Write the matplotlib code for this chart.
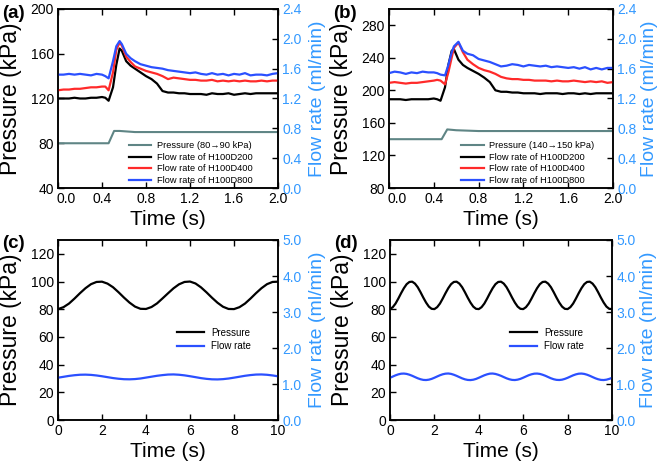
import numpy as np
import matplotlib
matplotlib.use("Agg")
import matplotlib.pyplot as plt
import matplotlib.transforms as mtransforms

plt.rcParams['font.family'] = ['Liberation Sans', 'DejaVu Sans']

# 颜色
c_flow_axis = '#3399ff'
c_press = '#5f8585'
c_black = '#000000'
c_red = '#ff2a2a'
c_blue = '#2b50ff'

# ---------------- (a)/(b) 阶跃响应数据 ----------------
t_step = [0.0, 0.05, 0.1, 0.15, 0.2, 0.25, 0.3, 0.35, 0.4, 0.43, 0.46, 0.5, 0.53, 0.56, 0.58,
          0.62, 0.66, 0.70, 0.75, 0.80, 0.85, 0.90, 0.95, 1.0, 1.05, 1.1, 1.15, 1.2, 1.25, 1.3,
          1.35, 1.4, 1.45, 1.5, 1.55, 1.6, 1.65, 1.7, 1.75, 1.8, 1.85, 1.9, 1.95, 2.0]

# (a) 80->90 kPa
t_press_a = [0.0, 0.46, 0.51, 0.56, 0.7, 2.0]
press_a = [80, 80, 91, 91, 90, 90]
flow_a_d200 = [1.20, 1.20, 1.20, 1.21, 1.20, 1.20, 1.21, 1.21, 1.22, 1.21, 1.17, 1.35, 1.65, 1.87, 1.84,
               1.70, 1.64, 1.60, 1.55, 1.50, 1.46, 1.40, 1.30, 1.28, 1.28, 1.27, 1.27, 1.26, 1.26, 1.26,
               1.25, 1.27, 1.26, 1.26, 1.27, 1.25, 1.26, 1.27, 1.26, 1.27, 1.27, 1.27, 1.27, 1.27]
flow_a_d400 = [1.31, 1.32, 1.32, 1.33, 1.33, 1.34, 1.35, 1.35, 1.36, 1.36, 1.31, 1.55, 1.85, 1.95, 1.91,
               1.76, 1.69, 1.63, 1.60, 1.57, 1.55, 1.53, 1.50, 1.46, 1.48, 1.47, 1.46, 1.45, 1.45, 1.44,
               1.44, 1.45, 1.43, 1.44, 1.43, 1.44, 1.43, 1.44, 1.43, 1.43, 1.44, 1.43, 1.44, 1.44]
flow_a_d800 = [1.52, 1.52, 1.53, 1.52, 1.53, 1.52, 1.51, 1.53, 1.52, 1.50, 1.47, 1.70, 1.90, 1.97, 1.93,
               1.80, 1.74, 1.70, 1.66, 1.64, 1.62, 1.61, 1.60, 1.58, 1.57, 1.56, 1.55, 1.54, 1.55, 1.53,
               1.52, 1.54, 1.52, 1.53, 1.51, 1.53, 1.52, 1.54, 1.51, 1.52, 1.52, 1.51, 1.53, 1.54]

# (b) 140->150 kPa
t_press_b = [0.0, 0.47, 0.52, 0.6, 0.8, 2.0]
press_b = [140, 140, 152, 151, 150, 150]
flow_b_d200 = [1.19, 1.19, 1.19, 1.18, 1.19, 1.19, 1.19, 1.19, 1.20, 1.19, 1.17, 1.35, 1.65, 1.84, 1.86,
               1.72, 1.65, 1.61, 1.57, 1.53, 1.48, 1.42, 1.31, 1.29, 1.29, 1.28, 1.28, 1.27, 1.27, 1.27,
               1.26, 1.27, 1.27, 1.27, 1.26, 1.27, 1.27, 1.26, 1.27, 1.26, 1.27, 1.27, 1.27, 1.27]
flow_b_d400 = [1.41, 1.42, 1.41, 1.40, 1.41, 1.41, 1.42, 1.43, 1.44, 1.45, 1.44, 1.39, 1.55, 1.75, 1.88,
               1.95, 1.82, 1.72, 1.66, 1.61, 1.58, 1.56, 1.53, 1.49, 1.47, 1.46, 1.46, 1.45, 1.45, 1.44,
               1.44, 1.44, 1.43, 1.44, 1.43, 1.43, 1.44, 1.43, 1.42, 1.43, 1.42, 1.43, 1.41, 1.42]
flow_b_d800 = [1.54, 1.56, 1.55, 1.53, 1.55, 1.54, 1.56, 1.55, 1.55, 1.54, 1.52, 1.51, 1.65, 1.82, 1.90,
               1.96, 1.84, 1.80, 1.78, 1.73, 1.71, 1.69, 1.66, 1.63, 1.64, 1.66, 1.65, 1.63, 1.65, 1.64,
               1.63, 1.64, 1.62, 1.63, 1.62, 1.61, 1.62, 1.60, 1.62, 1.59, 1.61, 1.59, 1.61, 1.61]

# ---------------- (c)/(d) 周期压力数据 ----------------
t_c = [i * 0.25 for i in range(41)]
press_c = [80.1, 81.5, 84.1, 87.7, 91.6, 95.2, 98.1, 99.7, 99.9, 98.5, 95.9, 92.3, 88.4, 84.8, 81.9, 80.3,
           80.2, 81.6, 84.2, 87.8, 91.5, 95.1, 98.0, 99.7, 100.0, 98.6, 95.8, 92.2, 88.3, 84.7, 81.8, 80.2,
           80.1, 81.5, 84.1, 87.7, 91.6, 95.2, 98.1, 99.7, 99.9]
flow_c = [1.175, 1.200, 1.225, 1.244, 1.257, 1.260, 1.253, 1.237, 1.215, 1.190, 1.165, 1.146, 1.133, 1.130,
          1.137, 1.153, 1.178, 1.203, 1.228, 1.247, 1.262, 1.266, 1.257, 1.240, 1.216, 1.190, 1.163, 1.143,
          1.130, 1.127, 1.135, 1.152, 1.176, 1.202, 1.228, 1.248, 1.262, 1.265, 1.256, 1.238, 1.214]

t_d = [i * 0.125 for i in range(81)]
press_d = [80.1, 81.5, 84.1, 87.7, 91.6, 95.2, 98.1, 99.7, 99.9, 98.5, 95.9, 92.3, 88.4, 84.8, 81.9, 80.3,
           80.1, 81.5, 84.1, 87.7, 91.6, 95.2, 98.1, 99.7, 99.9, 98.5, 95.9, 92.3, 88.4, 84.8, 81.9, 80.3,
           80.1, 81.5, 84.1, 87.7, 91.6, 95.2, 98.1, 99.7, 99.9, 98.5, 95.9, 92.3, 88.4, 84.8, 81.9, 80.3,
           80.1, 81.5, 84.1, 87.7, 91.6, 95.2, 98.1, 99.7, 99.9, 98.5, 95.9, 92.3, 88.4, 84.8, 81.9, 80.3,
           80.1, 81.5, 84.1, 87.7, 91.6, 95.2, 98.1, 99.7, 99.9, 98.5, 95.9, 92.3, 88.4, 84.8, 81.9, 80.3,
           80.1]
flow_d = [1.172, 1.207, 1.241, 1.268, 1.286, 1.290, 1.280, 1.258, 1.228, 1.193, 1.159, 1.132, 1.114, 1.110, 1.120, 1.142,
          1.174, 1.209, 1.243, 1.270, 1.287, 1.292, 1.281, 1.257, 1.226, 1.191, 1.157, 1.130, 1.113, 1.109, 1.119, 1.141,
          1.173, 1.208, 1.242, 1.269, 1.288, 1.291, 1.279, 1.256, 1.227, 1.192, 1.158, 1.131, 1.114, 1.110, 1.121, 1.143,
          1.175, 1.210, 1.244, 1.270, 1.287, 1.290, 1.280, 1.257, 1.228, 1.193, 1.159, 1.132, 1.115, 1.111, 1.120, 1.142,
          1.172, 1.207, 1.241, 1.268, 1.286, 1.290, 1.280, 1.258, 1.228, 1.193, 1.159, 1.132, 1.114, 1.110, 1.120, 1.142,
          1.170]

fig = plt.figure(figsize=(6.61, 4.62), dpi=100)

# 坐标轴位置 (像素换算)
W, H = 661, 462
pos_a = [58 / W, (H - 188) / H, 220 / W, 179 / H]
pos_b = [389 / W, (H - 188) / H, 224 / W, 179 / H]
pos_c = [58 / W, (H - 420) / H, 220 / W, 180 / H]
pos_d = [390 / W, (H - 420) / H, 222 / W, 180 / H]


def style_axes(ax, ax2, rpad):
    for a in (ax, ax2):
        for s in a.spines.values():
            s.set_linewidth(1.1)
    ax.tick_params(direction='in', length=4, width=1, labelsize=10, top=True, pad=3)
    ax2.tick_params(direction='in', length=4, width=1, labelsize=10, colors=c_flow_axis, pad=3)
    ax2.tick_params(axis='y', color='black')
    ax.set_ylabel('Pressure (kPa)', fontsize=16.5, labelpad=6)
    ax2.set_ylabel('Flow rate (ml/min)', fontsize=14, color=c_flow_axis, labelpad=rpad)
    ax.set_xlabel('Time (s)', fontsize=15, labelpad=2.5)


def step_panel(pos, t_p, p, f200, f400, f800, ylim, yticks, plabel, tag, rpad):
    ax = fig.add_axes(pos)
    ax2 = ax.twinx()
    l0, = ax.plot(t_p, p, color=c_press, lw=1.5, label=plabel)
    l1, = ax2.plot(t_step, f200, color=c_black, lw=1.6, label='Flow rate of H100D200')
    l2, = ax2.plot(t_step, f400, color=c_red, lw=1.6, label='Flow rate of H100D400')
    l3, = ax2.plot(t_step, f800, color=c_blue, lw=1.6, label='Flow rate of H100D800')
    ax.set_xlim(0, 2)
    ax.set_xticks(np.arange(0, 2.01, 0.4))
    ax.set_xticklabels(['%.1f' % v for v in np.arange(0, 2.01, 0.4)])
    ax.set_ylim(*ylim)
    ax.set_yticks(yticks)
    ax2.set_ylim(0, 2.4)
    ax2.set_yticks(np.arange(0, 2.41, 0.4))
    ax2.set_yticklabels(['%.1f' % v for v in np.arange(0, 2.41, 0.4)])
    style_axes(ax, ax2, rpad)
    # "0.0" 稍微右移, 避免和左下角的刻度重叠
    first = ax.get_xticklabels()[0]
    first.set_transform(first.get_transform() + mtransforms.ScaledTranslation(6 / 72, 0, fig.dpi_scale_trans))
    ax2.legend(handles=[l0, l1, l2, l3], loc='lower left', bbox_to_anchor=(0.285, -0.03),
               frameon=False, fontsize=6.7, handlelength=2.4, handletextpad=0.6, labelspacing=0.28)
    fig.text(pos[0] - 56 / W, pos[1] + pos[3] - 4 / H, tag, fontsize=13.5, fontweight='bold', va='center')


def wave_panel(pos, t, p, f, tag, rpad):
    ax = fig.add_axes(pos)
    ax2 = ax.twinx()
    l0, = ax.plot(t, p, color=c_black, lw=1.6, label='Pressure')
    l1, = ax2.plot(t, f, color=c_blue, lw=1.6, label='Flow rate')
    ax.set_xlim(0, 10)
    ax.set_xticks(range(0, 11, 2))
    ax.set_ylim(0, 130)
    ax.set_yticks(range(0, 121, 20))
    ax2.set_ylim(0, 5)
    ax2.set_yticks(np.arange(0, 5.01, 1.0))
    ax2.set_yticklabels(['%.1f' % v for v in np.arange(0, 5.01, 1.0)])
    style_axes(ax, ax2, rpad)
    ax2.legend(handles=[l0, l1], loc='lower left', bbox_to_anchor=(0.50, 0.335),
               frameon=False, fontsize=7, handlelength=2.8, handletextpad=0.7, labelspacing=0.35)
    fig.text(pos[0] - 56 / W, pos[1] + pos[3] - 4 / H, tag, fontsize=13.5, fontweight='bold', va='center')


step_panel(pos_a, t_press_a, press_a, flow_a_d200, flow_a_d400, flow_a_d800,
           (40, 200), range(40, 201, 40), 'Pressure (80\u219290 kPa)', '(a)', 5.5)
step_panel(pos_b, t_press_b, press_b, flow_b_d200, flow_b_d400, flow_b_d800,
           (80, 300), range(80, 281, 40), 'Pressure (140\u2192150 kPa)', '(b)', 3.0)
wave_panel(pos_c, t_c, press_c, flow_c, '(c)', 5.5)
wave_panel(pos_d, t_d, press_d, flow_d, '(d)', 3.0)

fig.savefig('out.png', dpi=100)
